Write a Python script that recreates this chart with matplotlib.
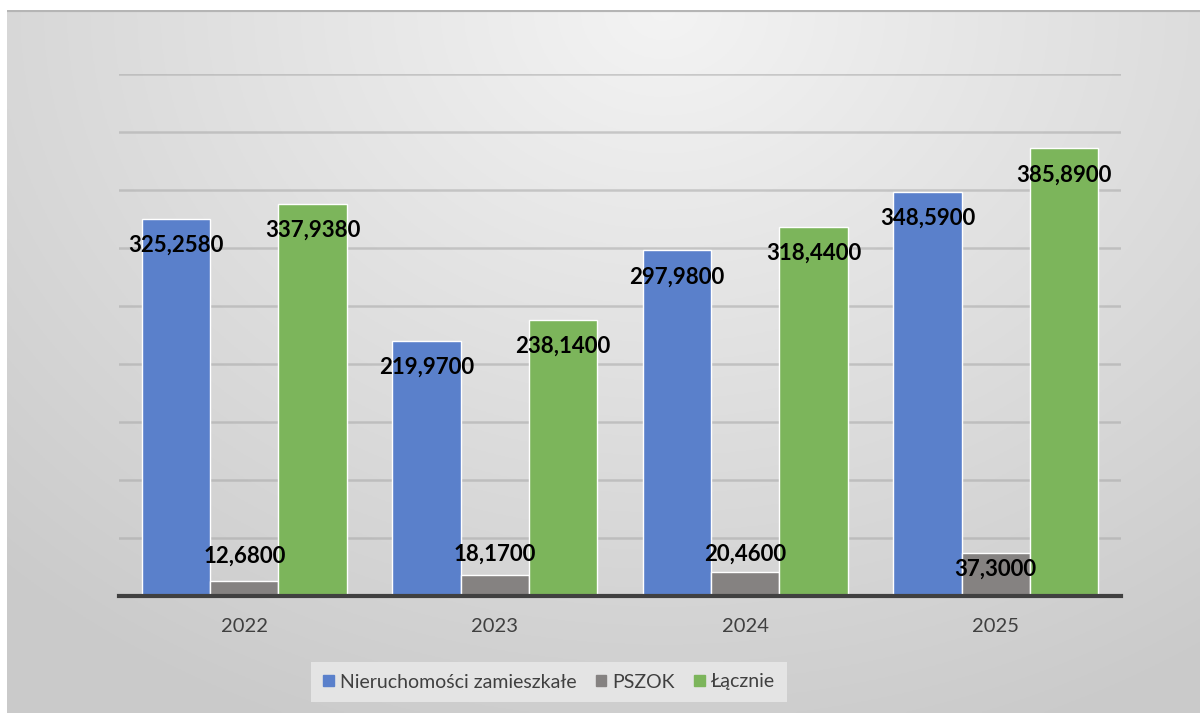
import numpy as np
import matplotlib.pyplot as plt
from matplotlib.patches import Patch

# dane
lata = ['2022', '2023', '2024', '2025']
nieruchomosci = [325.258, 219.97, 297.98, 348.59]
pszok = [12.68, 18.17, 20.46, 37.30]
lacznie = [337.938, 238.14, 318.44, 385.89]
etykiety_nier = ['325,2580', '219,9700', '297,9800', '348,5900']
etykiety_pszok = ['12,6800', '18,1700', '20,4600', '37,3000']
etykiety_lacz = ['337,9380', '238,1400', '318,4400', '385,8900']

kol_nier = '#5a80cb'
kol_pszok = '#858281'
kol_lacz = '#7cb55b'

plt.rcParams['font.family'] = ['Lato', 'DejaVu Sans']

fig = plt.figure(figsize=(12, 7.13), dpi=100)
fig.patch.set_facecolor('white')

# tlo z gradientem
bg = fig.add_axes([7 / 1200, 0, 1 - 7 / 1200, 1 - 10 / 713], zorder=0)
ny, nx = 300, 500
yy, xx = np.mgrid[0:1:ny * 1j, 0:1:nx * 1j]
r = np.sqrt(((xx - 0.55) / 0.8) ** 2 + ((yy - 1.0) / 1.1) ** 2)
r = np.clip(r, 0, 1)
g = 0.955 - 0.16 * r
bg.imshow(np.dstack([g, g, g]), origin='lower', extent=[0, 1, 0, 1], aspect='auto')
bg.axhline(1, color='#b5b5b5', lw=3)
bg.set_xlim(0, 1)
bg.set_ylim(0, 1)
bg.axis('off')

ax = fig.add_axes([119 / 1200, 1 - 596 / 713, 1002 / 1200, (596 - 74) / 713], zorder=1)
ax.patch.set_alpha(0)

x = np.arange(len(lata))
w = 0.273
ax.bar(x - w, nieruchomosci, w, color=kol_nier, edgecolor='white', linewidth=1.0, zorder=3)
ax.bar(x, pszok, w, color=kol_pszok, edgecolor='white', linewidth=1.0, zorder=3)
ax.bar(x + w, lacznie, w, color=kol_lacz, edgecolor='white', linewidth=1.0, zorder=3)

ax.set_ylim(0, 450)
ax.set_xlim(-0.5, 3.5)
ax.set_yticks(np.arange(0, 451, 50))
ax.yaxis.grid(True, color='#a8a8a8', alpha=0.55, lw=1.8, zorder=0)
ax.set_axisbelow(True)
ax.tick_params(axis='y', length=0, labelleft=False)
ax.set_xticks(x)
ax.set_xticklabels(lata, fontsize=14.5, color='#404040')
ax.tick_params(axis='x', length=0, pad=16)
for s in ['top', 'right', 'left']:
    ax.spines[s].set_visible(False)
ax.spines['bottom'].set_color('#404040')
ax.spines['bottom'].set_linewidth(3)
ax.spines['bottom'].set_zorder(4)

lbl = dict(ha='center', va='center', fontsize=16, fontweight='bold', color='black',
           textcoords='offset points', zorder=5)
for i in range(len(lata)):
    ax.annotate(etykiety_nier[i], (x[i] - w, nieruchomosci[i]), xytext=(0, -19), **lbl)
    ax.annotate(etykiety_lacz[i], (x[i] + w, lacznie[i]), xytext=(0, -19), **lbl)

przes_pszok = [18, 15, 13, -12]
for i in range(len(lata)):
    ax.annotate(etykiety_pszok[i], (x[i], pszok[i]), xytext=(0, przes_pszok[i]), **lbl)

uchwyty = [Patch(color=kol_nier, label='Nieruchomości zamieszkałe'),
           Patch(color=kol_pszok, label='PSZOK'),
           Patch(color=kol_lacz, label='Łącznie')]
leg = fig.legend(handles=uchwyty, loc='center', bbox_to_anchor=(549 / 1200, 1 - 682 / 713),
                 ncol=3, fontsize=14, frameon=True, fancybox=False,
                 handlelength=0.55, handleheight=0.55, handletextpad=0.3, columnspacing=1.0,
                 borderpad=0.6, borderaxespad=0)
leg.get_frame().set_facecolor('#e4e4e4')
leg.get_frame().set_edgecolor('none')
leg.get_frame().set_alpha(1)
for t in leg.get_texts():
    t.set_color('#404040')

fig.savefig('out.png', dpi=100)
